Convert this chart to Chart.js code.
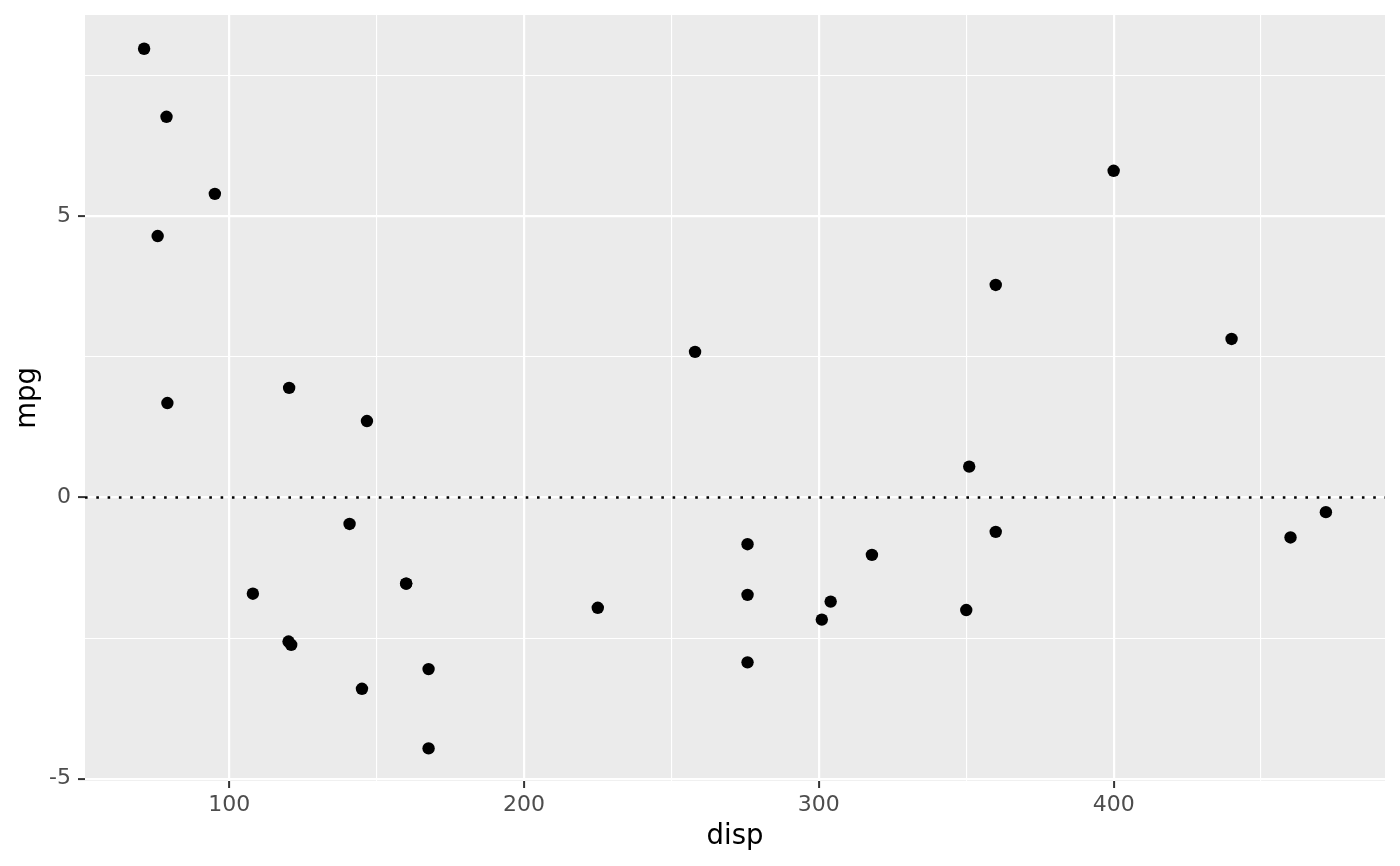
<!DOCTYPE html>
<html>
<head>
<meta charset="utf-8">
<script src="https://cdn.jsdelivr.net/npm/chart.js@4/dist/chart.umd.min.js"></script>
<style>
  html, body { margin: 0; padding: 0; background: #fff; }
  #wrap { width: 1400px; height: 866px; }
</style>
</head>
<body>
<div id="wrap"><canvas id="resid"></canvas></div>
<script>
const disp = [71.1, 78.7, 95.1, 75.7, 79, 120.3, 146.7, 140.8, 108, 160, 160, 120.1, 121, 145, 167.6, 167.6,
              225, 258, 275.8, 275.8, 275.8, 301, 304, 318, 350, 351, 360, 360, 400, 440, 460, 472];
const resid = [7.98, 6.77, 5.40, 4.65, 1.68, 1.95, 1.36, -0.47, -1.71, -1.53, -1.53, -2.56, -2.62, -3.40, -3.05, -4.46,
               -1.96, 2.59, -0.83, -1.73, -2.93, -2.17, -1.85, -1.02, -2.00, 0.55, 3.78, -0.61, 5.81, 2.82, -0.71, -0.26];
const xTicks = [100, 150, 200, 250, 300, 350, 400, 450];
const yTicks = [-5, -2.5, 0, 2.5, 5, 7.5];
const xMajor = [100, 200, 300, 400];
const yMajor = [-5, 0, 5];

const X_MIN = 51.05, X_MAX = 492.05;
const Y_MIN = -5.04, Y_MAX = 8.58;

const tickFont = { family: 'DejaVu Sans', size: 22 };
const titleFont = { family: 'DejaVu Sans', size: 27.5 };

// grey panel behind the grid
const panelBg = {
  id: 'panelBg',
  beforeDraw(chart) {
    const a = chart.chartArea, c = chart.ctx;
    c.save();
    c.fillStyle = '#EBEBEB';
    c.fillRect(a.left, a.top, a.right - a.left, a.bottom - a.top);
    c.restore();
  }
};

function gridOpts(major) {
  return {
    color: '#FFFFFF',
    lineWidth: ctx => major.includes(ctx.tick && ctx.tick.value) ? 2.2 : 1.1,
    tickColor: ctx => major.includes(ctx.tick && ctx.tick.value) ? '#333333' : 'rgba(0,0,0,0)',
    tickWidth: 2,
    tickLength: 7,
    drawTicks: true
  };
}

new Chart(document.getElementById('resid').getContext('2d'), {
  type: 'scatter',
  data: {
    datasets: [{
      data: disp.map((d, i) => ({ x: d, y: resid[i] })),
      backgroundColor: '#000',
      borderWidth: 0,
      pointRadius: 6.2,
      pointHoverRadius: 6.2
    }, {
      type: 'line',
      data: [{ x: X_MIN, y: 0 }, { x: X_MAX, y: 0 }],
      borderColor: '#000',
      borderWidth: 2.6,
      borderDash: [2.6, 8.7],
      pointRadius: 0,
      fill: false
    }]
  },
  options: {
    responsive: true,
    maintainAspectRatio: false,
    animation: false,
    layout: { padding: { top: 15, right: 15, left: 0, bottom: 0 } },
    plugins: { legend: { display: false }, tooltip: { enabled: false } },
    scales: {
      x: {
        type: 'linear',
        min: X_MIN, max: X_MAX,
        afterBuildTicks: axis => { axis.ticks = xTicks.map(v => ({ value: v })); },
        afterFit: axis => { axis.height = 85; axis.paddingLeft = 0; axis.paddingRight = 0; },
        border: { display: false },
        grid: gridOpts(xMajor),
        ticks: {
          autoSkip: false, maxRotation: 0, padding: 4,
          color: '#4D4D4D', font: tickFont,
          callback: v => xMajor.includes(v) ? String(v) : ''
        },
        title: { display: true, text: 'disp', color: '#000', font: titleFont, padding: { top: 0, bottom: 12.5 } }
      },
      y: {
        type: 'linear',
        min: Y_MIN, max: Y_MAX,
        afterBuildTicks: axis => { axis.ticks = yTicks.map(v => ({ value: v })); },
        afterFit: axis => { axis.width = 85; axis.paddingTop = 0; axis.paddingBottom = 0; },
        border: { display: false },
        grid: gridOpts(yMajor),
        ticks: {
          autoSkip: false, padding: 7,
          color: '#4D4D4D', font: tickFont,
          callback: v => yMajor.includes(v) ? String(v) : ''
        },
        title: { display: true, text: 'mpg', color: '#000', font: titleFont, padding: { top: 11.5, bottom: 0 } }
      }
    }
  },
  plugins: [panelBg]
});
</script>
</body>
</html>
